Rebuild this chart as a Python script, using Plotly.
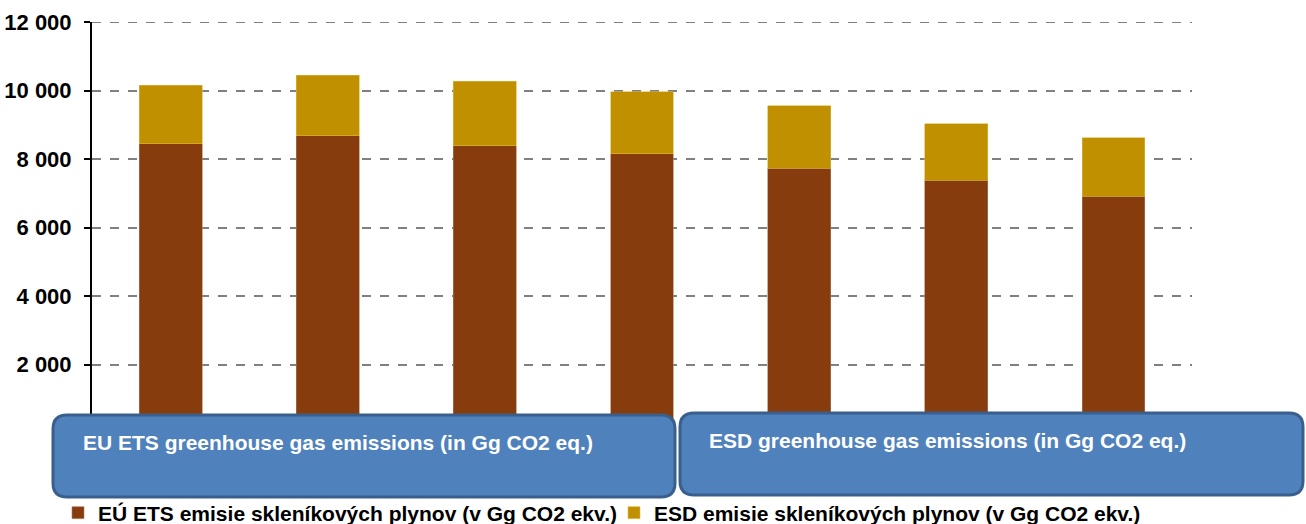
import plotly.graph_objects as go

categories = ["1", "2", "3", "4", "5", "6", "7"]
ets_values = [8440, 8676, 8382, 8147, 7735, 7382, 6912]
esd_values = [1707, 1765, 1883, 1823, 1824, 1648, 1706]
y_ticks = [2000, 4000, 6000, 8000, 10000, 12000]
y_tick_labels = ["2 000", "4 000", "6 000", "8 000", "10 000", "12 000"]
ets_name = "EÚ ETS emisie skleníkových plynov (v Gg CO2 ekv.)"
esd_name = "ESD emisie skleníkových plynov (v Gg CO2 ekv.)"
box_texts = ["EU ETS greenhouse gas emissions (in Gg CO2 eq.)",
             "ESD greenhouse gas emissions (in Gg CO2 eq.)"]

W, H = 1306, 524
L, R, T, B = 92, 114, 22, 91
PW, PH = W - L - R, H - T - B

def px(x):
    return (x - L) / PW

def py(y):
    return (H - B - y) / PH

def rounded_box(x0, y0, x1, y1, r):
    X0, X1 = px(x0), px(x1)
    Y0, Y1 = py(y0), py(y1)
    rx, ry = r / PW, r / PH
    return (f"M {X0+rx},{Y0} L {X1-rx},{Y0} Q {X1},{Y0} {X1},{Y0-ry} "
            f"L {X1},{Y1+ry} Q {X1},{Y1} {X1-rx},{Y1} "
            f"L {X0+rx},{Y1} Q {X0},{Y1} {X0},{Y1+ry} "
            f"L {X0},{Y0-ry} Q {X0},{Y0} {X0+rx},{Y0} Z")

FONT = "Liberation Sans, Arial"

fig = go.Figure()
fig.add_trace(go.Bar(x=categories, y=ets_values, name=ets_name,
                     marker=dict(color="#863C0D", line=dict(color="#B07A5A", width=0.6)),
                     width=0.4))
fig.add_trace(go.Bar(x=categories, y=esd_values, name=esd_name,
                     marker=dict(color="#C09000", line=dict(color="#E0B840", width=0.6)),
                     width=0.4))

shapes = []
boxes = [(53, 415, 675, 497), (680, 413, 1303, 495)]
for (x0, y0, x1, y1) in boxes:
    shapes.append(dict(type="path", xref="paper", yref="paper",
                       path=rounded_box(x0, y0, x1, y1, 14),
                       fillcolor="#4F81BD", line=dict(color="#3A5F8C", width=3),
                       layer="above"))
# top gridline at 12 000 (at the plot edge)
shapes.append(dict(type="line", xref="paper", yref="y", x0=0, x1=1, y0=12000, y1=12000,
                   line=dict(color="#808080", width=2, dash="dash"), layer="below"))

annotations = []
text_pos = [(81, 442), (707, 440)]
for (tx, ty), t in zip(text_pos, box_texts):
    annotations.append(dict(x=px(tx), y=py(ty), xref="paper", yref="paper",
                            text=t, showarrow=False, xanchor="left", yanchor="middle",
                            font=dict(family=FONT, size=21, color="white", weight="bold")))

fig.update_layout(
    width=W, height=H,
    margin=dict(l=L, r=R, t=T, b=B, autoexpand=False),
    barmode="stack",
    plot_bgcolor="white", paper_bgcolor="white",
    showlegend=True,
    legend=dict(orientation="h", x=px(58), y=py(513), xanchor="left", yanchor="middle",
                font=dict(family=FONT, size=21, color="black", weight="bold"),
                itemwidth=30, entrywidth=511, traceorder="normal",
                bgcolor="rgba(0,0,0,0)", itemclick=False, tracegroupgap=0),
    shapes=shapes,
    annotations=annotations,
    xaxis=dict(showticklabels=False, showgrid=False, showline=False, zeroline=False,
               range=[-0.5, 6.5]),
    yaxis=dict(range=[0, 12000], tickvals=y_ticks, ticktext=y_tick_labels,
               showgrid=True, gridcolor="#808080", griddash="dash", gridwidth=2,
               showline=True, linecolor="black", linewidth=2,
               ticks="outside", ticklen=6, tickcolor="black", tickwidth=2,
               ticklabelstandoff=8, zeroline=False,
               tickfont=dict(family=FONT, size=22, color="black", weight="bold")),
)

fig.write_html("out.html", config={"displayModeBar": False},
               post_script="document.body.style.margin='0px';")
